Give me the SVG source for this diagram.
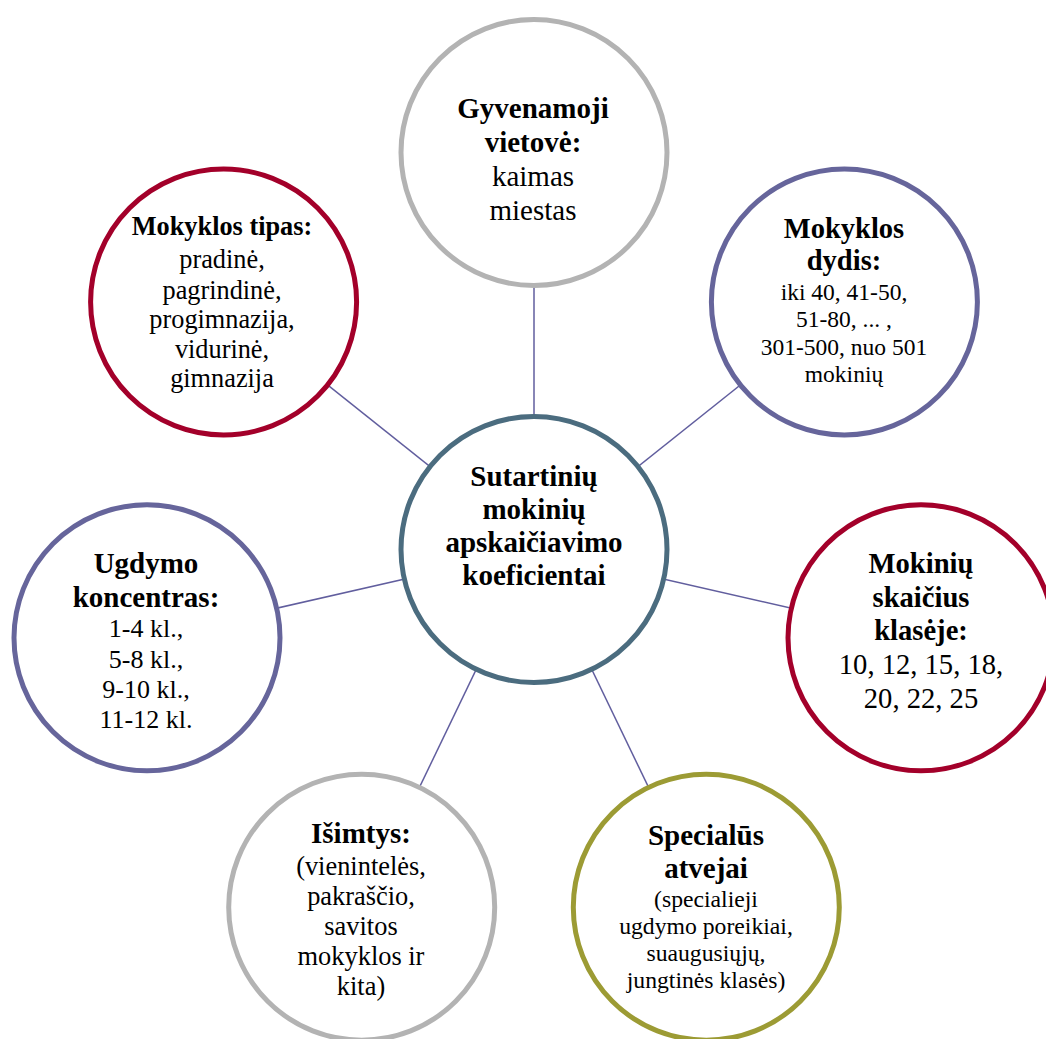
<svg xmlns="http://www.w3.org/2000/svg" width="1046" height="1039" viewBox="0 0 1046 1039">
  <style>
    .node { fill: #ffffff; stroke-width: 5; }
    .gray { stroke: #b3b3b3; }
    .red { stroke: #a3002a; }
    .violet { stroke: #66659b; }
    .olive { stroke: #9c9b34; }
    .hub { stroke: #4b6c7f; }
    text { font-family: "Liberation Serif", "Times New Roman", serif; fill: #000000; text-anchor: middle; }
    .b { font-weight: bold; }
    #links line { stroke: #615e9e; stroke-width: 1.5; }
  </style>

  <!-- spokes from the hub to each satellite -->
  <g id="links">
    <line x1="534" y1="549.5" x2="534" y2="152.5"/>
    <line x1="534" y1="549.5" x2="844.4" y2="302"/>
    <line x1="534" y1="549.5" x2="921" y2="637.8"/>
    <line x1="534" y1="549.5" x2="706.3" y2="907.2"/>
    <line x1="534" y1="549.5" x2="361.7" y2="907.2"/>
    <line x1="534" y1="549.5" x2="147" y2="637.8"/>
    <line x1="534" y1="549.5" x2="223.6" y2="302"/>
  </g>

  <g id="hub">
    <circle class="node hub" cx="534" cy="549.5" r="133"/>
    <text class="b" font-size="29"><tspan x="534" y="486">Sutartinių</tspan><tspan x="534" y="519">mokinių</tspan><tspan x="534" y="552">apskaičiavimo</tspan><tspan x="534" y="585">koeficientai</tspan></text>
  </g>

  <g id="vietove">
    <circle class="node gray" cx="534" cy="152.5" r="133"/>
    <text font-size="29"><tspan class="b" x="533" y="118">Gyvenamoji</tspan><tspan class="b" x="533" y="152">vietovė:</tspan><tspan x="533" y="186">kaimas</tspan><tspan x="533" y="220">miestas</tspan></text>
  </g>

  <g id="dydis">
    <circle class="node violet" cx="844.4" cy="302" r="133"/>
    <text font-size="23.5"><tspan class="b" font-size="28.5" x="844" y="238">Mokyklos</tspan><tspan class="b" font-size="28.5" x="844" y="270">dydis:</tspan><tspan x="844" y="300">iki 40, 41-50,</tspan><tspan x="844" y="327">51-80, ... ,</tspan><tspan x="844" y="355">301-500, nuo 501</tspan><tspan x="844" y="382">mokinių</tspan></text>
  </g>

  <g id="skaicius">
    <circle class="node red" cx="921" cy="637.8" r="133"/>
    <text font-size="28.6"><tspan class="b" x="921" y="573">Mokinių</tspan><tspan class="b" x="921" y="607">skaičius</tspan><tspan class="b" x="921" y="640">klasėje:</tspan><tspan x="921" y="674">10, 12, 15, 18,</tspan><tspan x="921" y="708">20, 22, 25</tspan></text>
  </g>

  <g id="specialus">
    <circle class="node olive" cx="706.3" cy="907.2" r="133"/>
    <text font-size="23.7"><tspan class="b" font-size="29" x="706" y="845">Specialūs</tspan><tspan class="b" font-size="29" x="706" y="878">atvejai</tspan><tspan x="706" y="907">(specialieji</tspan><tspan x="706" y="934">ugdymo poreikiai,</tspan><tspan x="706" y="961">suaugusiųjų,</tspan><tspan x="706" y="988">jungtinės klasės)</tspan></text>
  </g>

  <g id="isimtys">
    <circle class="node gray" cx="361.7" cy="907.2" r="133"/>
    <text font-size="26.4"><tspan class="b" font-size="29" x="361" y="843">Išimtys:</tspan><tspan x="361" y="875">(vienintelės,</tspan><tspan x="361" y="905">pakraščio,</tspan><tspan x="361" y="935">savitos</tspan><tspan x="361" y="965">mokyklos ir</tspan><tspan x="361" y="995">kita)</tspan></text>
  </g>

  <g id="koncentras">
    <circle class="node violet" cx="147" cy="637.8" r="133"/>
    <text font-size="26"><tspan class="b" font-size="29" x="146" y="573">Ugdymo</tspan><tspan class="b" font-size="29" x="146" y="607">koncentras:</tspan><tspan x="146" y="637">1-4 kl.,</tspan><tspan x="146" y="668">5-8 kl.,</tspan><tspan x="146" y="698">9-10 kl.,</tspan><tspan x="146" y="728">11-12 kl.</tspan></text>
  </g>

  <g id="tipas">
    <circle class="node red" cx="223.6" cy="302" r="133"/>
    <text font-size="26.3"><tspan class="b" x="222" y="235">Mokyklos tipas:</tspan><tspan x="222" y="268">pradinė,</tspan><tspan x="222" y="299">pagrindinė,</tspan><tspan x="222" y="328">progimnazija,</tspan><tspan x="222" y="358">vidurinė,</tspan><tspan x="222" y="387">gimnazija</tspan></text>
  </g>
</svg>
